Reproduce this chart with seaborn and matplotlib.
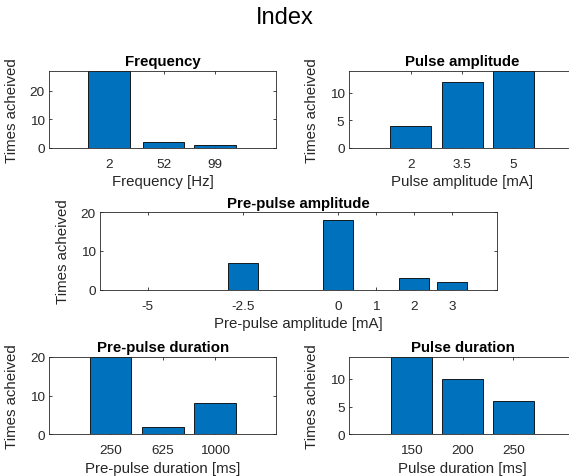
import matplotlib
matplotlib.use("Agg")
import matplotlib.pyplot as plt
import seaborn as sns
import pandas as pd

# Counts of how often each stimulation setting was reached
freq_hz = [2, 52, 99]
freq_counts = [27, 2, 1]

pulse_amp_ma = [2, 3.5, 5]
pulse_amp_counts = [4, 12, 14]

prepulse_amp_ma = [-5, -2.5, 0, 1, 2, 3]
prepulse_amp_counts = [0, 7, 18, 0, 3, 2]

prepulse_dur_ms = [250, 625, 1000]
prepulse_dur_counts = [20, 2, 8]

pulse_dur_ms = [150, 200, 250]
pulse_dur_counts = [14, 10, 6]

sns.set_theme(style="white")
plt.rcParams["font.family"] = ["Liberation Sans", "DejaVu Sans"]

BAR_COLOR = "#0072BD"
AX_COLOR = "#262626"
W, H = 569, 477

fig = plt.figure(figsize=(W / 100, H / 100), dpi=100)
fig.patch.set_facecolor("white")


def px_axes(left, right, top, bottom):
    return fig.add_axes([left / W, 1 - bottom / H, (right - left) / W, (bottom - top) / H])


def draw(ax, xs, counts, title, xlabel, xlim, ylim, yticks, width_px):
    df = pd.DataFrame({"value": [float(v) for v in xs], "count": counts})
    sns.barplot(data=df, x="value", y="count", ax=ax, native_scale=True,
                color=BAR_COLOR, saturation=1, errorbar=None,
                edgecolor="black", linewidth=0.6)
    ax.set_xticks(xs)
    ax.set_xticklabels([f"{v:g}" for v in xs])
    ax.set_xlim(*xlim)
    ax.set_ylim(*ylim)
    ax.set_yticks(yticks)
    ax.set_title(title, fontsize=10.8, fontweight="bold", color="black", pad=4)
    ax.set_xlabel(xlabel, fontsize=10.8, color=AX_COLOR, labelpad=3)
    ax.set_ylabel("Times acheived", fontsize=10.8, color=AX_COLOR)
    ax.yaxis.set_label_coords(-30 / width_px, 0.5)
    ax.tick_params(axis="both", direction="in", length=2.5, width=0.6,
                   labelsize=9.7, colors=AX_COLOR, top=True, right=True,
                   bottom=True, left=True)
    ax.tick_params(axis="x", pad=7.3)
    ax.tick_params(axis="y", pad=3)
    for s in ax.spines.values():
        s.set_visible(True)
        s.set_color(AX_COLOR)
        s.set_linewidth(0.6)


ax1 = px_axes(49, 276, 71.7, 148.7)
draw(ax1, freq_hz, freq_counts, "Frequency", "Frequency [Hz]",
     (-52.9, 154.8), (0, 27), [0, 10, 20], 227)

ax2 = px_axes(348.7, 575.7, 71.7, 148.7)
draw(ax2, pulse_amp_ma, pulse_amp_counts, "Pulse amplitude", "Pulse amplitude [mA]",
     (0.18, 6.82), (0, 14), [0, 5, 10], 227)

ax3 = px_axes(100, 496.7, 213.3, 290.7)
draw(ax3, prepulse_amp_ma, prepulse_amp_counts, "Pre-pulse amplitude",
     "Pre-pulse amplitude [mA]", (-6.26, 4.17), (0, 20), [0, 10, 20], 396.7)

ax4 = px_axes(49.3, 276, 357.7, 435.3)
draw(ax4, prepulse_dur_ms, prepulse_dur_counts, "Pre-pulse duration",
     "Pre-pulse duration [ms]", (-191, 1439), (0, 20), [0, 10, 20], 226.7)

ax5 = px_axes(349, 576, 357.7, 435.3)
draw(ax5, pulse_dur_ms, pulse_dur_counts, "Pulse duration", "Pulse duration [ms]",
     (88.7, 311.3), (0, 14), [0, 5, 10], 227)

fig.text(0.5, 1 - 18 / H, "Index", ha="center", va="center", fontsize=17, color="black")

fig.savefig("out.png", dpi=100, facecolor="white")
